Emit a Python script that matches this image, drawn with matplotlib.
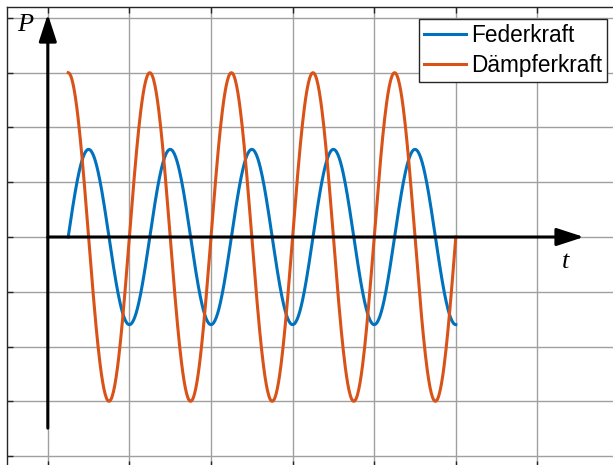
import matplotlib.pyplot as plt
import numpy as np

# Werte
t_start = 0.25
t_end = 5.0
periode = 1.0
amp_feder = 1.6
amp_daempfer = 3.0
labels = ['Federkraft', 'Dämpferkraft']
farben = ['#0072BD', '#D95319']

x_ticks = [0, 1, 2, 3, 4, 5, 6, 7]
y_ticks = [-4, -3, -2, -1, 0, 1, 2, 3, 4]

t = np.linspace(t_start, t_end, 600)
w = 2 * np.pi / periode
feder = -amp_feder * np.cos(w * t)
daempfer = amp_daempfer * np.sin(w * t)

fig = plt.figure(figsize=(6.13, 4.65), dpi=100)
ax = fig.add_axes([7 / 613, -2 / 465, 612 / 613, 460 / 465])
ax.set_xlim(-0.5, 7)
ax.set_ylim(-4.2, 4.2)

ax.set_xticks(x_ticks)
ax.set_yticks(y_ticks)
ax.tick_params(direction='in', length=4, width=1, color='#262626',
               top=True, right=True, labelbottom=False, labelleft=False)
ax.grid(True, color='#a0a0a0', linewidth=1)
for s in ax.spines.values():
    s.set_color('#262626')
    s.set_linewidth(1)

ax.plot(t, feder, color=farben[0], linewidth=2.2, label=labels[0])
ax.plot(t, daempfer, color=farben[1], linewidth=2.2, label=labels[1])

# Achsenpfeile
pfeil = dict(arrowstyle='-|>,head_length=0.83,head_width=0.27',
             mutation_scale=20, color='k', lw=2.2, shrinkA=0, shrinkB=0)
ax.annotate('', xy=(0, 4.07), xytext=(0, -3.49), arrowprops=pfeil)
ax.annotate('', xy=(6.57, 0), xytext=(0, 0), arrowprops=pfeil)

ax.text(-0.28, 3.87, 'P', fontsize=19, style='italic',
        family='Liberation Serif', ha='center', va='center')
ax.text(6.34, -0.45, 't', fontsize=19, style='italic',
        family='Liberation Serif', ha='center', va='center')

leg = ax.legend(loc='upper right', bbox_to_anchor=(0.980, 0.974),
                borderaxespad=0, fancybox=False, framealpha=1,
                prop={'family': 'Liberation Sans', 'size': 16.3},
                handlelength=1.85, handletextpad=0.2, labelspacing=0.3,
                borderpad=0.22)
leg.get_frame().set_edgecolor('#262626')
leg.get_frame().set_linewidth(1)

fig.savefig('out.png', dpi=100)
